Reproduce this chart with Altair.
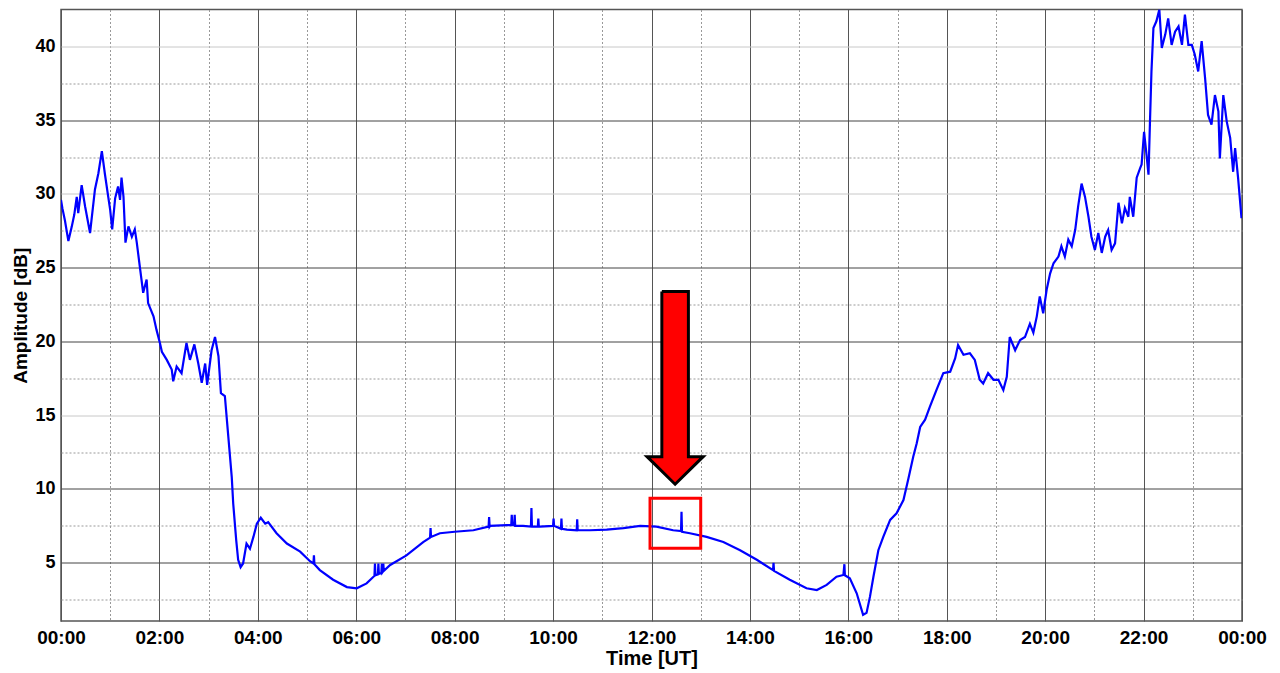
import altair as alt
import pandas as pd

# ---- signal (time in hours UT, amplitude in dB) ----
t = [0.00, 0.03, 0.08, 0.15, 0.22, 0.27, 0.32, 0.35, 0.42, 0.49, 0.59, 0.69, 0.76, 0.83, 0.89, 0.96,
     1.00, 1.04, 1.10, 1.16, 1.20, 1.23, 1.27, 1.31, 1.37, 1.44, 1.50, 1.54, 1.61, 1.67, 1.74, 1.77,
     1.88, 1.94, 2.01, 2.05, 2.15, 2.25, 2.28, 2.35, 2.45, 2.55, 2.62, 2.71, 2.79, 2.86, 2.93, 2.97,
     3.06, 3.13, 3.20, 3.25, 3.33, 3.40, 3.47, 3.50, 3.56, 3.60, 3.65, 3.70, 3.77, 3.84, 3.91, 3.98,
     4.06, 4.15, 4.21, 4.38, 4.59, 4.86, 5.06, 5.13, 5.14, 5.15, 5.26, 5.53, 5.81, 6.01, 6.21, 6.35,
     6.37, 6.38, 6.39, 6.44, 6.45, 6.46, 6.51, 6.52, 6.53, 6.54, 6.55, 6.56, 6.69, 7.02, 7.36, 7.50,
     7.51, 7.52, 7.70, 8.00, 8.38, 8.69, 8.70, 8.71, 8.72, 9.06, 9.15, 9.16, 9.17, 9.21, 9.22, 9.23,
     9.39, 9.55, 9.56, 9.57, 9.69, 9.70, 9.71, 9.73, 10.00, 10.01, 10.02, 10.16, 10.17, 10.18, 10.28,
     10.48, 10.49, 10.50, 10.75, 11.09, 11.43, 11.77, 12.10, 12.44, 12.60, 12.61, 12.62, 12.78, 13.12,
     13.46, 13.80, 14.14, 14.47, 14.48, 14.49, 14.81, 15.15, 15.36, 15.56, 15.76, 15.90, 15.92, 15.93,
     16.03, 16.17, 16.30, 16.37, 16.44, 16.51, 16.61, 16.71, 16.85, 16.98, 17.12, 17.22, 17.32, 17.39,
     17.46, 17.56, 17.66, 17.79, 17.93, 18.07, 18.17, 18.23, 18.34, 18.47, 18.57, 18.67, 18.74, 18.84,
     18.95, 19.05, 19.15, 19.22, 19.28, 19.39, 19.49, 19.59, 19.69, 19.76, 19.83, 19.89, 19.96, 20.03,
     20.10, 20.17, 20.27, 20.33, 20.40, 20.47, 20.54, 20.61, 20.67, 20.74, 20.81, 20.88, 20.94, 21.01,
     21.08, 21.15, 21.22, 21.28, 21.35, 21.42, 21.49, 21.56, 21.62, 21.69, 21.72, 21.79, 21.86, 21.93,
     21.96, 22.01, 22.06, 22.10, 22.13, 22.16, 22.20, 22.26, 22.32, 22.37, 22.44, 22.50, 22.57, 22.64,
     22.71, 22.78, 22.84, 22.91, 22.98, 23.04, 23.11, 23.18, 23.25, 23.31, 23.38, 23.45, 23.52, 23.55,
     23.62, 23.69, 23.76, 23.82, 23.86, 23.92, 23.99]
amp = [29.6, 29.0, 28.2, 26.8, 27.8, 28.6, 29.8, 28.7, 30.6, 29.15, 27.35, 30.3, 31.4, 32.9, 31.4, 29.8,
       28.9, 27.6, 29.7, 30.5, 29.6, 31.1, 29.8, 26.7, 27.8, 27.1, 27.6, 26.7, 24.85, 23.3, 24.2, 22.6,
       21.7, 20.8, 19.9, 19.3, 18.75, 18.1, 17.3, 18.3, 17.85, 19.9, 18.75, 19.8, 18.5, 17.2, 18.5, 17.05,
       19.4, 20.3, 19.0, 16.5, 16.3, 13.55, 10.8, 9.0, 6.55, 5.2, 4.7, 4.95, 6.3, 5.95, 6.75, 7.65,
       8.05, 7.65, 7.75, 7.0, 6.3, 5.75, 5.1, 4.95, 5.5, 4.9, 4.5, 3.85, 3.35, 3.27, 3.6, 4.05,
       4.1, 4.95, 4.15, 4.2, 4.95, 4.25, 4.3, 4.95, 4.35, 4.4, 4.95, 4.45, 4.85, 5.5, 6.4, 6.7,
       7.35, 6.75, 7.0, 7.1, 7.2, 7.45, 8.1, 7.45, 7.5, 7.55, 7.55, 8.25, 7.55, 7.55, 8.25, 7.5,
       7.5, 7.45, 8.7, 7.45, 7.45, 8.0, 7.45, 7.45, 7.5, 8.0, 7.5, 7.3, 8.0, 7.3, 7.25,
       7.2, 7.95, 7.2, 7.2, 7.25, 7.35, 7.5, 7.45, 7.2, 7.15, 8.45, 7.1, 7.0, 6.75,
       6.4, 5.85, 5.2, 4.5, 5.0, 4.45, 3.85, 3.27, 3.15, 3.5, 4.05, 4.17, 4.9, 4.15,
       3.95, 2.93, 1.47, 1.6, 2.7, 4.05, 5.85, 6.75, 7.9, 8.35, 9.25, 10.7, 12.2, 13.1,
       14.2, 14.7, 15.6, 16.7, 17.85, 17.95, 18.85, 19.75, 19.1, 19.2, 18.75, 17.4, 17.15, 17.85,
       17.4, 17.4, 16.7, 17.6, 20.3, 19.4, 20.1, 20.3, 21.2, 20.6, 21.7, 23.05, 21.9, 23.5,
       24.6, 25.3, 25.75, 26.45, 25.75, 26.9, 26.45, 27.55, 29.15, 30.7, 29.8, 28.45, 27.1, 26.2,
       27.35, 26.0, 27.1, 27.55, 26.2, 26.65, 29.4, 28.0, 29.05, 28.45, 29.8, 28.45, 31.1, 31.75,
       32.0, 34.2, 32.65, 31.3, 34.9, 38.3, 41.25, 41.7, 42.5, 39.9, 40.8, 41.9, 40.1, 41.0,
       41.35, 40.1, 42.15, 40.1, 40.1, 39.45, 38.3, 40.35, 37.85, 35.35, 34.7, 36.7, 35.6, 32.4,
       36.7, 34.9, 33.8, 31.5, 33.1, 31.1, 28.35]

# ---- axis ticks ----
x_ticks = list(range(0, 25))
y_ticks = [2.5, 5, 7.5, 10, 12.5, 15, 17.5, 20, 22.5, 25, 27.5, 30, 32.5, 35, 37.5, 40]

# ---- annotation: red arrow outline and highlight box (data units) ----
arrow_x = [12.21, 12.75, 12.75, 13.05, 12.48, 11.91, 12.21, 12.21]
arrow_y = [23.38, 23.38, 12.19, 12.19, 10.32, 12.19, 12.19, 23.38]
box_x, box_x2 = 11.97, 13.0
box_y, box_y2 = 5.98, 9.37

X_DOMAIN = [0, 24]
Y_DOMAIN = [1.05, 42.5]
FONT = "Liberation Sans"

sig = pd.DataFrame({"t": t, "amp": amp})
arrow = pd.DataFrame({"x": arrow_x, "y": arrow_y, "o": list(range(len(arrow_x)))})
box = pd.DataFrame({"x": [box_x], "x2": [box_x2], "y": [box_y], "y2": [box_y2]})

x_axis = alt.Axis(
    values=x_ticks,
    labelExpr="datum.value % 2 == 0 ? (datum.value % 24 < 10 ? '0' : '') + (datum.value % 24) + ':00' : ''",
    title="Time [UT]",
    grid=True,
    gridColor={"condition": {"test": "datum.value % 2 == 0", "value": "#555555"}, "value": "#999999"},
    gridWidth=1,
    gridDash={"condition": {"test": "datum.value % 2 == 0", "value": []}, "value": [2, 2]},
    ticks=False,
    domain=False,
    labelFont=FONT, labelFontSize=19, labelFontWeight="bold", labelColor="#000000",
    labelPadding=7, labelFlush=False,
    titleFont=FONT, titleFontSize=20, titleFontWeight="bold", titleColor="#000000",
    titlePadding=1,
)
y_axis = alt.Axis(
    values=y_ticks,
    labelExpr="datum.value % 5 == 0 ? datum.label : ''",
    title="Amplitude [dB]",
    grid=True,
    gridColor={"condition": [
        {"test": "datum.value == 40 || datum.value == 30 || datum.value == 15", "value": "#c8c8c8"},
        {"test": "datum.value % 5 != 0", "value": "#999999"}], "value": "#444444"},
    gridWidth=1,
    gridDash={"condition": {"test": "datum.value % 5 == 0", "value": []}, "value": [2, 2]},
    ticks=False,
    domain=False,
    labelFont=FONT, labelFontSize=18, labelFontWeight="bold", labelColor="#000000",
    labelPadding=6, labelFlush=False,
    titleFont=FONT, titleFontSize=19, titleFontWeight="bold", titleColor="#000000",
    titlePadding=4,
)

xs = alt.Scale(domain=X_DOMAIN, nice=False, zero=False)
ys = alt.Scale(domain=Y_DOMAIN, nice=False, zero=False)

line = alt.Chart(sig).mark_line(color="#0000ff", strokeWidth=2.2, clip=True).encode(
    x=alt.X("t:Q", scale=xs, axis=x_axis),
    y=alt.Y("amp:Q", scale=ys, axis=y_axis),
)

box_layer = alt.Chart(box).mark_rect(fillOpacity=0, stroke="#ff0000", strokeWidth=3).encode(
    x=alt.X("x:Q", scale=xs), x2="x2", y=alt.Y("y:Q", scale=ys), y2="y2"
)

arrow_layer = alt.Chart(arrow).mark_line(
    fill="#ff0000", stroke="#000000", strokeWidth=3, strokeJoin="miter", interpolate="linear"
).encode(
    x=alt.X("x:Q", scale=xs),
    y=alt.Y("y:Q", scale=ys),
    order="o:Q",
)

chart = alt.layer(line, box_layer, arrow_layer).properties(
    width=1181,
    height=611.5,
    autosize=alt.AutoSizeParams(type="none"),
    padding={"left": 53, "top": 1.5, "right": 25, "bottom": 50},
    background="#ffffff",
).configure_view(stroke="#555555", strokeWidth=1.5)

chart.save("out.html", embed_options={"renderer": "svg", "actions": False})
